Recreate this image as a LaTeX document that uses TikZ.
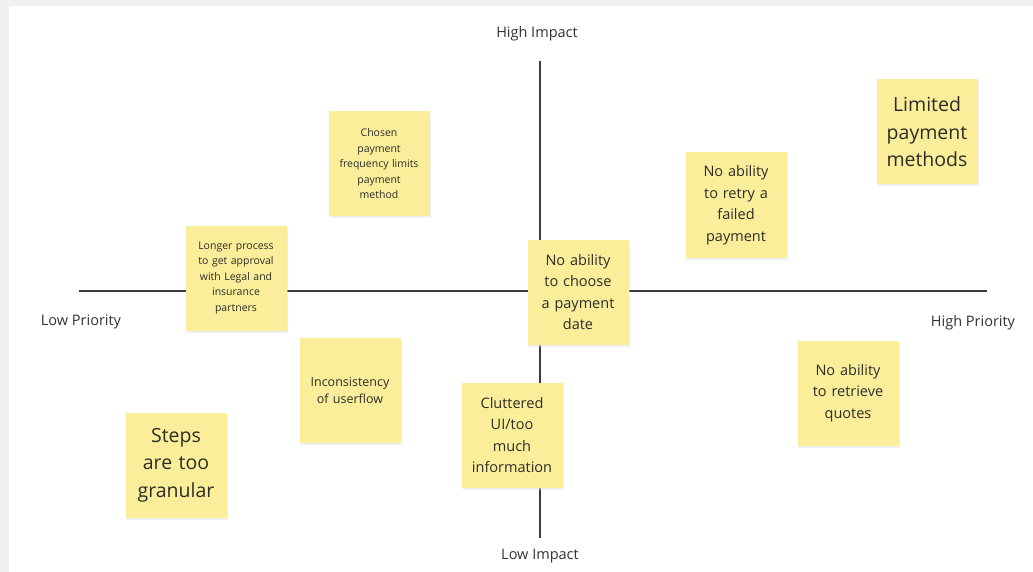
\documentclass[tikz,border=0pt]{standalone}
\usepackage{fontspec}
\setmainfont{Open Sans}
\definecolor{bggray}{RGB}{240,240,240}
\definecolor{notefill}{RGB}{250,238,155}
\definecolor{notetext}{RGB}{45,45,38}
\definecolor{axiscol}{RGB}{60,60,60}
\definecolor{labelcol}{RGB}{50,50,50}
\begin{document}
\begin{tikzpicture}[x=1pt,y=-1pt,
  note/.style={fill=notefill, draw=none, minimum width=101pt, minimum height=105pt,
    inner sep=2pt, align=center, text=notetext, text width=95pt},
  shadowbox/.style={fill=black!12, draw=none, minimum width=101pt, minimum height=105pt},
  axisline/.style={draw=axiscol, line width=1.5pt},
  axislabel/.style={text=labelcol, font=\fontsize{14.5}{17}\selectfont, inner sep=0pt},
  tiny/.style={font=\fontsize{10.5}{15.5}\selectfont},
  small/.style={font=\fontsize{12.5}{17}\selectfont},
  medium/.style={font=\fontsize{14.5}{21.5}\selectfont},
  large/.style={font=\fontsize{19.5}{27.5}\selectfont}
]
\useasboundingbox (0,0) rectangle (1033,572);
\fill[bggray] (0,0) rectangle (1033,572);
\fill[white] (9,6) rectangle (1033,572);

% axes
\coordinate (hl) at (79,291);
\coordinate (hr) at (987,291);
\coordinate (vt) at (540,61);
\coordinate (vb) at (540,538);
\draw[axisline] (hl) -- (hr);
\draw[axisline] (vt) -- (vb);

% axis labels
\node[axislabel] (hi) at (537,34) {High Impact};
\node[axislabel] (lo) at (540,556) {Low Impact};
\node[axislabel] (lp) at (81,322) {Low Priority};
\node[axislabel] (hp) at (973,323) {High Priority};

% shadows
\foreach \p in {(380,166),(237,280),(579,294),(737,207),(928,134),(351,392),(513,437),(849,395),(177,467)}
  \node[shadowbox, opacity=0.5] at \p {};

% notes
\node[note, tiny] (chosen) at (379,164) {Chosen\\payment\\frequency limits\\payment\\method};
\node[note, tiny] (longer) at (236,278) {Longer process\\to get approval\\with Legal and\\insurance\\partners};
\node[note, medium] (choose) at (578,292) {No ability\\to choose\\a payment\\date};
\node[note, medium] (retry) at (736,205) {No ability\\to retry a\\failed\\payment};
\node[note, large] (limited) at (927,132) {Limited\\payment\\methods};
\node[note, small] (incons) at (350,390) {Inconsistency\\of userflow};
\node[note, medium] (clutter) at (512,435) {Cluttered\\UI/too\\much\\information};
\node[note, medium] (retrieve) at (848,393) {No ability\\to retrieve\\quotes};
\node[note, large] (steps) at (176,465) {Steps\\are too\\granular};
\end{tikzpicture}
\end{document}
